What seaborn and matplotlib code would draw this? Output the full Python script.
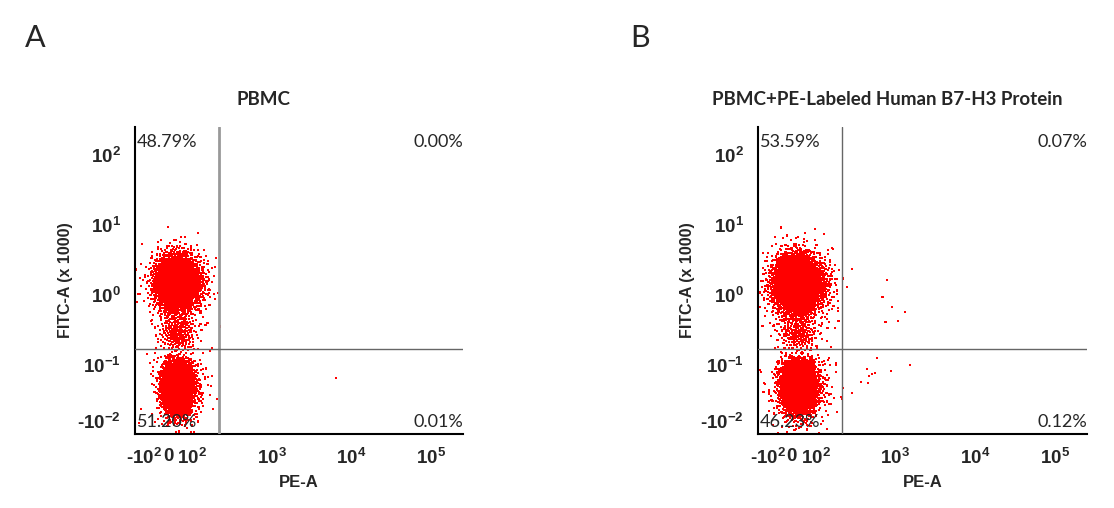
import numpy as np
import seaborn as sns
import matplotlib.pyplot as plt
from matplotlib.scale import FuncScale

# Panels
panel_letters = ["A", "B"]
titles = ["PBMC", "PBMC+PE-Labeled Human B7-H3 Protein"]
quad_ul = ["48.79%", "53.59%"]
quad_ur = ["0.00%", "0.07%"]
quad_ll = ["51.20%", "46.23%"]
quad_lr = ["0.01%", "0.12%"]

# Gates (PE-A raw units, FITC-A in x1000 units)
gate_x = 217
gate_y = 0.17

# Populations (centre / spread of each cloud)
# kind "log": FITC spread in log10 units, kind "lin": FITC spread in linear units
# upper cloud, bridge, lower cloud, upper halo, lower halo
pop_kind = ["log", "log", "lin", "log", "lin"]
a_count = [3400, 260, 3900, 260, 260]
a_x_mean = [35, 40, 40, 35, 40]
a_x_sd = [43, 40, 30, 70, 55]
a_y_mean = [0.17, -0.55, 0.056, 0.17, 0.056]
a_y_sd = [0.19, 0.15, 0.025, 0.3, 0.04]
b_count = [4000, 260, 3500, 320, 300]
b_x_mean = [25, 30, 30, 25, 30]
b_x_sd = [48, 45, 36, 80, 62]
b_y_mean = [0.15, -0.55, 0.058, 0.15, 0.058]
b_y_sd = [0.2, 0.15, 0.026, 0.3, 0.042]

# Sparse single events
a_extra_x = [6300, -42, 178]
a_extra_y = [0.074, 4.85, 0.175]
b_extra_x = [288, 776, 690, 898, 1312, 753, 1069, 597, 1517, 446, 516, 562, 473, 871,
             374, 458, 288, 222, 209, 213, 161, 127, 17, 181]
b_extra_y = [2.35, 1.64, 0.935, 0.675, 0.571, 0.411, 0.426, 0.126, 0.1, 0.092, 0.082,
             0.084, 0.078, 0.088, 0.067, 0.065, 0.045, 0.055, 0.037, 0.033, 4.69, 7.4,
             6.5, 0.1]

# Axis ticks
x_ticks = [-100, 0, 100, 1000, 10000, 100000]
x_tick_labels = [r"-$\mathbf{10^{2}}$", r"$\mathbf{0}$", r"$\mathbf{10^{2}}$",
                 r"$\mathbf{10^{3}}$", r"$\mathbf{10^{4}}$", r"$\mathbf{10^{5}}$"]
y_ticks = [-0.01, 0.1, 1, 10, 100]
y_tick_labels = [r"-$\mathbf{10^{-2}}$", r"$\mathbf{10^{-1}}$", r"$\mathbf{10^{0}}$",
                 r"$\mathbf{10^{1}}$", r"$\mathbf{10^{2}}$"]

# Biexponential-like display scales
LIN_X = 0.3
LIN_Y = 0.727


def fwd_x(v):
    v = np.asarray(v, float)
    a = np.abs(v)
    return np.where(a <= 100, LIN_X * v / 100,
                    np.sign(v) * (LIN_X + np.log10(np.maximum(a, 100) / 100)))


def inv_x(p):
    p = np.asarray(p, float)
    a = np.abs(p)
    return np.where(a <= LIN_X, p / LIN_X * 100,
                    np.sign(p) * 100 * 10 ** (np.maximum(a, LIN_X) - LIN_X))


def fwd_y(v):
    v = np.asarray(v, float)
    return np.where(v <= 0.1, LIN_Y * v / 0.1, LIN_Y + np.log10(np.maximum(v, 0.1) / 0.1))


def inv_y(p):
    p = np.asarray(p, float)
    return np.where(p <= LIN_Y, p / LIN_Y * 0.1, 0.1 * 10 ** (np.maximum(p, LIN_Y) - LIN_Y))


def halton(n, base, skip):
    idx = np.arange(skip + 1, skip + n + 1)
    out = np.zeros(n)
    f = 1.0
    while idx.any():
        f /= base
        out += f * (idx % base)
        idx //= base
    return out


def cloud(count, xm, xs, ym, ys, kind, bases, skip):
    # even (quasi-random) fill of a gaussian cloud with the given centre and spread
    u1 = halton(count, bases[0], skip)
    u2 = halton(count, bases[1], skip)
    r = np.sqrt(-2 * np.log(np.clip(u1, 1e-4, 1)))
    zx = np.clip(r * np.cos(2 * np.pi * u2), -3.5, 3.5)
    zy = np.clip(r * np.sin(2 * np.pi * u2), -3.5, 3.5)
    x = xm + xs * zx
    y = 10 ** (ym + ys * zy) if kind == "log" else ym + ys * zy
    return x, y


base_pairs = [(2, 3), (5, 7), (11, 13), (17, 19), (23, 29)]

sns.set_style("white")
plt.rcParams['font.family'] = ['Lato', 'DejaVu Sans']
plt.rcParams['mathtext.fontset'] = 'custom'
plt.rcParams['mathtext.rm'] = 'Liberation Sans'
plt.rcParams['mathtext.bf'] = 'Liberation Sans:bold'

fig = plt.figure(figsize=(11.14, 5.08), dpi=100)
ax_a = fig.add_axes([135 / 1114, 1 - 434 / 508, 328 / 1114, 307 / 508])
ax_b = fig.add_axes([758 / 1114, 1 - 434 / 508, 329 / 1114, 307 / 508])

panels = [
    (ax_a, a_count, a_x_mean, a_x_sd, a_y_mean, a_y_sd, a_extra_x, a_extra_y, 0, 2.0, "#999999"),
    (ax_b, b_count, b_x_mean, b_x_sd, b_y_mean, b_y_sd, b_extra_x, b_extra_y, 5000, 1.0, "#666666"),
]

for i, (ax, cnt, xm, xs, ym, ys, ex, ey, skip, vlw, vcol) in enumerate(panels):
    xs_all, ys_all = [], []
    for k in range(len(cnt)):
        x, y = cloud(cnt[k], xm[k], xs[k], ym[k], ys[k], pop_kind[k], base_pairs[k], skip)
        xs_all.append(x)
        ys_all.append(y)
    xs_all.append(np.array(ex, float))
    ys_all.append(np.array(ey, float))
    px = np.concatenate(xs_all)
    py = np.concatenate(ys_all)

    ax.set_xscale(FuncScale(ax.xaxis, (fwd_x, inv_x)))
    ax.set_yscale(FuncScale(ax.yaxis, (fwd_y, inv_y)))
    sns.scatterplot(x=px, y=py, ax=ax, marker='s', s=2.2, color='#ff0000',
                    linewidth=0, edgecolor='none')
    ax.set_xlim(float(inv_x(-0.42)), float(inv_x(3.70)))
    ax.set_ylim(float(inv_y(-0.259)), float(inv_y(4.127)))

    # quadrant gates
    ax.axvline(gate_x, color=vcol, lw=vlw, zorder=3)
    ax.axhline(gate_y, color='#666666', lw=1.0, zorder=3)

    for side in ['top', 'right']:
        ax.spines[side].set_visible(False)
    for side in ['left', 'bottom']:
        ax.spines[side].set_color('black')
        ax.spines[side].set_linewidth(1.5)

    ax.set_xticks(x_ticks)
    ax.set_xticklabels(x_tick_labels, fontsize=13.5, fontweight='bold',
                       family=['Liberation Sans'])
    ax.set_yticks(y_ticks)
    ax.set_yticklabels(y_tick_labels, fontsize=13.5, fontweight='bold',
                       family=['Liberation Sans'])
    minor_x = [v * m for v in [100, 1000, 10000] for m in range(2, 10)] + [-50, 50]
    minor_y = [v * m for v in [0.1, 1, 10] for m in range(2, 10)] + [0.05]
    ax.set_xticks(minor_x, minor=True)
    ax.set_yticks(minor_y, minor=True)
    ax.tick_params(which='major', length=3, width=0.8, pad=7, color='#333333')
    ax.tick_params(which='minor', length=2, width=0.6, color='#555555')

    ax.set_xlabel("PE-A", fontsize=12, fontweight='bold', family=['Liberation Sans'])
    ax.set_ylabel("FITC-A (x 1000)", fontsize=11.5, fontweight='bold', family=['Liberation Sans'])
    ax.xaxis.set_label_coords(0.5, -0.135)
    ax.yaxis.set_label_coords(-0.19, 0.5)

    ax.text(0.006, 0.952, quad_ul[i], transform=ax.transAxes, fontsize=13, va='center', ha='left')
    ax.text(1.0, 0.952, quad_ur[i], transform=ax.transAxes, fontsize=13, va='center', ha='right')
    ax.text(0.006, 0.04, quad_ll[i], transform=ax.transAxes, fontsize=13, va='center', ha='left')
    ax.text(1.0, 0.04, quad_lr[i], transform=ax.transAxes, fontsize=13, va='center', ha='right')

    ax.text(0.393, 1.088, titles[i], transform=ax.transAxes, fontsize=13.5,
            fontweight='bold', ha='center', va='center')

fig.text(35 / 1114, 1 - 38 / 508, panel_letters[0], fontsize=22, ha='center', va='center')
fig.text(640 / 1114, 1 - 38 / 508, panel_letters[1], fontsize=22, ha='center', va='center')

fig.savefig("out.png", dpi=100)
